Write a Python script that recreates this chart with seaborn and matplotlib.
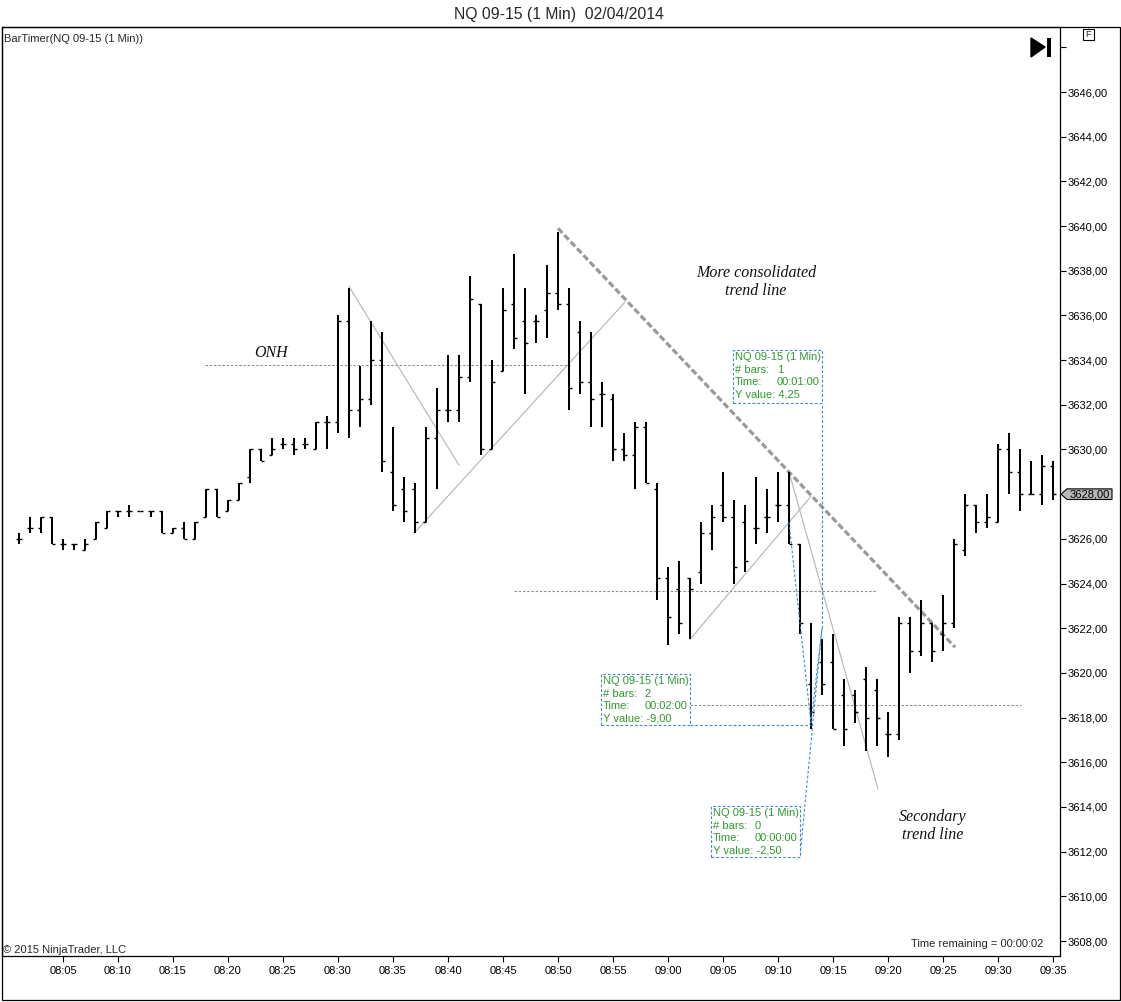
import numpy as np
import pandas as pd
import matplotlib
matplotlib.use("Agg")
import matplotlib.pyplot as plt
import seaborn as sns
from matplotlib.patches import Rectangle, Polygon

W, H = 1121, 1002

# bars: minutes after 08:00 (08:01 .. 09:35)
minutes = list(range(1, 96))
opens = [3626.0, 3626.5, 3626.5, 3627.0, 3625.75, 3625.75, 3625.5, 3626.0, 3626.5, 3627.25,
         3627.25, 3627.25, 3627.25, 3627.25, 3626.25, 3626.5, 3626.0, 3627.0, 3628.25, 3627.25,
         3627.75, 3628.75, 3630.0, 3629.75, 3630.25, 3630.25, 3630.25, 3630.0, 3631.25, 3631.25,
         3635.75, 3631.75, 3632.25, 3634.0, 3629.0, 3628.25, 3628.25, 3626.75, 3630.5, 3631.75,
         3631.75, 3633.25, 3636.5, 3630.0, 3633.5, 3636.5, 3635.75, 3635.75, 3636.25, 3637.0,
         3636.5, 3635.25, 3633.0, 3632.5, 3632.25, 3630.0, 3629.75, 3631.0, 3628.25, 3624.25,
         3623.75, 3624.25, 3624.5, 3626.25, 3627.5, 3627.0, 3626.75, 3626.5, 3627.0, 3627.5,
         3627.5, 3625.75, 3619.5, 3620.5, 3620.5, 3619.0, 3619.0, 3619.75, 3619.25, 3617.25,
         3617.25, 3622.25, 3621.0, 3622.25, 3621.75, 3622.25, 3625.5, 3627.5, 3626.75, 3626.75,
         3630.0, 3629.0, 3628.0, 3628.0, 3629.25]
highs = [3626.25, 3627.0, 3627.0, 3627.0, 3626.0, 3625.75, 3626.0, 3626.75, 3627.25, 3627.25,
         3627.5, 3627.25, 3627.25, 3627.25, 3626.5, 3626.75, 3626.75, 3628.25, 3628.25, 3627.75,
         3628.5, 3630.0, 3630.0, 3630.5, 3630.5, 3630.5, 3630.5, 3631.25, 3631.5, 3636.0,
         3637.25, 3633.75, 3635.75, 3635.25, 3631.0, 3628.75, 3628.5, 3631.0, 3632.75, 3634.25,
         3634.25, 3637.75, 3636.5, 3634.0, 3637.25, 3638.75, 3637.25, 3636.0, 3638.25, 3639.75,
         3637.25, 3635.75, 3635.25, 3633.0, 3632.5, 3630.75, 3631.25, 3631.25, 3628.5, 3624.75,
         3625.0, 3624.25, 3626.75, 3627.5, 3629.0, 3627.75, 3627.5, 3628.75, 3628.25, 3629.0,
         3629.0, 3625.75, 3622.25, 3621.5, 3621.75, 3619.75, 3619.25, 3620.25, 3619.75, 3618.25,
         3622.5, 3622.5, 3623.25, 3622.25, 3623.5, 3626.0, 3628.0, 3627.5, 3628.0, 3630.25,
         3630.75, 3630.0, 3629.5, 3629.75, 3629.5]
lows = [3625.75, 3626.25, 3626.25, 3625.75, 3625.5, 3625.5, 3625.5, 3626.0, 3626.5, 3627.0,
        3627.0, 3627.25, 3627.0, 3626.25, 3626.25, 3626.0, 3626.0, 3627.0, 3627.0, 3627.25,
        3627.75, 3628.5, 3629.5, 3629.75, 3630.0, 3629.75, 3630.0, 3630.0, 3630.0, 3630.75,
        3630.5, 3631.0, 3632.0, 3629.0, 3627.25, 3626.75, 3626.25, 3626.75, 3628.25, 3631.25,
        3631.25, 3633.0, 3629.75, 3630.0, 3633.5, 3634.5, 3632.5, 3634.75, 3635.0, 3636.25,
        3631.75, 3632.5, 3631.0, 3631.0, 3629.5, 3629.5, 3628.25, 3628.5, 3623.25, 3621.25,
        3621.75, 3621.5, 3624.0, 3625.5, 3626.75, 3624.0, 3624.5, 3625.75, 3626.25, 3626.75,
        3625.75, 3621.75, 3617.5, 3619.0, 3617.5, 3616.75, 3617.75, 3616.5, 3616.75, 3616.25,
        3617.0, 3620.0, 3620.75, 3620.5, 3621.0, 3622.0, 3625.25, 3626.25, 3626.5, 3626.75,
        3628.0, 3627.25, 3628.0, 3627.5, 3627.75]
closes = [3626.0, 3626.5, 3627.0, 3625.75, 3625.75, 3625.75, 3625.75, 3626.75, 3627.25, 3627.25,
          3627.25, 3627.25, 3627.25, 3626.25, 3626.5, 3626.0, 3626.75, 3628.25, 3627.0, 3627.75,
          3628.5, 3630.0, 3629.5, 3630.0, 3630.25, 3630.0, 3630.25, 3631.25, 3631.25, 3635.75,
          3631.75, 3632.25, 3634.0, 3629.5, 3627.5, 3627.25, 3626.75, 3630.5, 3631.75, 3631.75,
          3633.25, 3636.75, 3630.0, 3633.0, 3636.25, 3635.0, 3634.75, 3635.75, 3637.0, 3636.5,
          3632.75, 3633.0, 3632.25, 3632.5, 3630.0, 3629.75, 3631.0, 3628.5, 3624.25, 3622.5,
          3622.25, 3623.75, 3626.25, 3627.0, 3627.0, 3624.75, 3625.0, 3626.5, 3627.0, 3627.5,
          3625.75, 3622.25, 3618.25, 3619.5, 3617.5, 3617.5, 3618.25, 3618.0, 3618.0, 3617.25,
          3622.25, 3621.0, 3622.25, 3621.0, 3622.25, 3625.75, 3627.5, 3626.75, 3627.0, 3630.0,
          3629.0, 3628.0, 3628.0, 3629.25, 3628.0]

time_ticks = list(range(5, 96, 5))
time_labels = ["08:05", "08:10", "08:15", "08:20", "08:25", "08:30", "08:35", "08:40", "08:45",
               "08:50", "08:55", "09:00", "09:05", "09:10", "09:15", "09:20", "09:25", "09:30", "09:35"]
price_ticks = list(range(3608, 3649, 2))

# drawing tools (minute, price)
trend_thin = [((31.0, 3637.3), (41.0, 3629.3)),
              ((37.0, 3626.3), (56.1, 3636.6)),
              ((62.0, 3621.5), (73.0, 3627.9)),
              ((71.0, 3629.0), (79.1, 3614.8))]
trend_main = ((50.0, 3639.9), (86.1, 3621.15))
levels = [(3633.8, 17.9, 51.1), (3623.65, 46.0, 79.0), (3618.55, 62.0, 92.1)]
ruler_lines = [((71.0, 3626.75), (73.0, 3617.75)),
               ((73.0, 3617.75), (74.0, 3622.0)),
               ((74.0, 3622.0), (74.0, 3632.08)),
               ((62.0, 3617.67), (73.0, 3617.67)),
               ((74.0, 3622.0), (72.0, 3611.76))]
# ruler info boxes: left, right, top, bottom, bars, time, y value
ruler_boxes = [(65.9, 74.0, 3634.45, 3632.08, "1", "00:01:00", "4,25"),
               (53.9, 62.0, 3619.95, 3617.67, "2", "00:02:00", "-9,00"),
               (63.9, 72.0, 3614.04, 3611.76, "0", "00:00:00", "-2,50")]
notes = [(23.9, 3634.3, "ONH"),
         (68.0, 3637.5, "More consolidated\ntrend line"),
         (84.1, 3613.15, "Secondary\ntrend line")]

sns.set_theme(style="white")
plt.rcParams["font.family"] = ["Liberation Sans", "DejaVu Sans"]


def fig_xy(x, y):
    return x / W, 1 - y / H


fig = plt.figure(figsize=(W / 100, H / 100), dpi=100)
fig.patch.set_facecolor("white")
x0, y0 = fig_xy(2, 956)
x1, y1 = fig_xy(1060, 27)
ax = fig.add_axes([x0, y0, x1 - x0, y1 - y0])
ax.set_facecolor("white")
ax.set_xlim(-0.545, 95.64)
ax.set_ylim(3607.33, 3648.91)

# OHLC bars
m = np.array(minutes, dtype=float)
ax.vlines(m, lows, highs, color="black", lw=1.45, zorder=3)
ax.hlines(opens, m - 0.3, m, color="black", lw=1.0, zorder=3)
ax.hlines(closes, m, m + 0.3, color="black", lw=1.0, zorder=3)

# trend lines
for (a, b) in trend_thin:
    seg = pd.DataFrame({"x": [a[0], b[0]], "y": [a[1], b[1]]})
    sns.lineplot(data=seg, x="x", y="y", ax=ax, color="#b8b8b8", lw=0.85,
                 estimator=None, sort=False, zorder=2)
seg = pd.DataFrame({"x": [trend_main[0][0], trend_main[1][0]],
                    "y": [trend_main[0][1], trend_main[1][1]]})
sns.lineplot(data=seg, x="x", y="y", ax=ax, color="#9a9a9a", lw=2.3,
             linestyle=(0, (2.0, 0.9)), estimator=None, sort=False, zorder=2)
for (lv, xa, xb) in levels:
    ax.plot([xa, xb], [lv, lv], color="#909090", lw=0.8, ls=(0, (2.2, 1.6)), zorder=2)

# ruler
blue = "#3d8bd6"
for (a, b) in ruler_lines:
    ax.plot([a[0], b[0]], [a[1], b[1]], color=blue, lw=0.8, ls=(0, (2.5, 1.8)), zorder=4)
green = "#2f9a2f"
for (l, r, t, b, nb, tm, yv) in ruler_boxes:
    ax.add_patch(Rectangle((l, b), r - l, t - b, fill=True, facecolor="white",
                           edgecolor=blue, lw=0.8, ls=(0, (2.5, 1.8)), zorder=5))
    rows = [("NQ 09-15 (1 Min)", ""), ("# bars:", nb), ("Time:", tm), ("Y value: " + yv, "")]
    for i, (lab, val) in enumerate(rows):
        ax.annotate(lab, (l, t), xytext=(2, -7.3 - 12.4 * i), textcoords="offset pixels",
                    color=green, fontsize=8, va="center", ha="left", zorder=6)
        if val:
            ax.annotate(val, (l, t), xytext=(44, -7.3 - 12.4 * i), textcoords="offset pixels",
                        color=green, fontsize=8, va="center", ha="left", zorder=6)

for (nx, ny, txt) in notes:
    ax.text(nx, ny, txt, family="Liberation Serif", style="italic", fontsize=11.5,
            ha="center", va="center", linespacing=1.15, color="#111111", zorder=6)

# axes styling
for sp in ax.spines.values():
    sp.set_visible(True)
    sp.set_color("black")
    sp.set_linewidth(0.9)
last = closes[-1]
ax.yaxis.tick_right()
ax.set_yticks(price_ticks)
ax.set_yticklabels([f"{p},00" if p < 3648 and p != round(last) else "" for p in price_ticks])
ax.set_xticks(time_ticks)
ax.set_xticklabels(time_labels)
ax.tick_params(axis="y", which="major", direction="out", length=4.5, width=0.8,
               colors="black", labelsize=8, pad=1, right=True, left=False)
ax.tick_params(axis="x", which="major", direction="out", length=4.5, width=0.8,
               colors="black", labelsize=8, pad=3, bottom=True)
ax.set_xlabel("")
ax.set_ylabel("")
ax.grid(False)

# last price marker
ax_right = ax.transAxes.transform((1, 0))[0]
yd = ax.transData.transform((0, last))[1]
marker = Polygon([(ax_right + 1, yd), (ax_right + 7, yd + 5.3), (ax_right + 52, yd + 5.3),
                  (ax_right + 52, yd - 5.3), (ax_right + 7, yd - 5.3)], closed=True,
                 transform=None, facecolor="#b8b8b8", edgecolor="black", lw=0.8, zorder=10)
fig.add_artist(marker)
fig.text((ax_right + 30) / W, yd / H, f"{last:.2f}".replace(".", ","), fontsize=8,
         ha="center", va="center", color="black", zorder=11)

# window chrome
fig.add_artist(Rectangle(fig_xy(2, 1000), 1118 / W, 973 / H, transform=fig.transFigure,
                         fill=False, edgecolor="black", lw=0.9))
fig.text(*fig_xy(559, 14), "NQ 09-15 (1 Min)  02/04/2014", fontsize=11.3, ha="center", va="center")
fig.text(*fig_xy(4, 39), "BarTimer(NQ 09-15 (1 Min))", fontsize=8, ha="left", va="center")
fig.text(*fig_xy(3, 950), "\u00a9 2015 NinjaTrader, LLC", fontsize=8, ha="left", va="center")
fig.text(*fig_xy(1043, 944), "Time remaining = 00:00:02", fontsize=8, ha="right", va="center")
fig.add_artist(Polygon([fig_xy(1031, 38), fig_xy(1045, 47), fig_xy(1031, 57)], closed=True,
                       transform=fig.transFigure, facecolor="black", edgecolor="black"))
fig.add_artist(Rectangle(fig_xy(1046.5, 57), 4 / W, 19 / H, transform=fig.transFigure,
                         facecolor="black", edgecolor="none"))
fig.add_artist(Rectangle(fig_xy(1083, 40), 11 / W, 11 / H, transform=fig.transFigure,
                         fill=False, edgecolor="black", lw=0.8))
fig.text(*fig_xy(1088.5, 34.8), "F", fontsize=6.5, ha="center", va="center")

fig.savefig("out.png", dpi=100, facecolor="white")
